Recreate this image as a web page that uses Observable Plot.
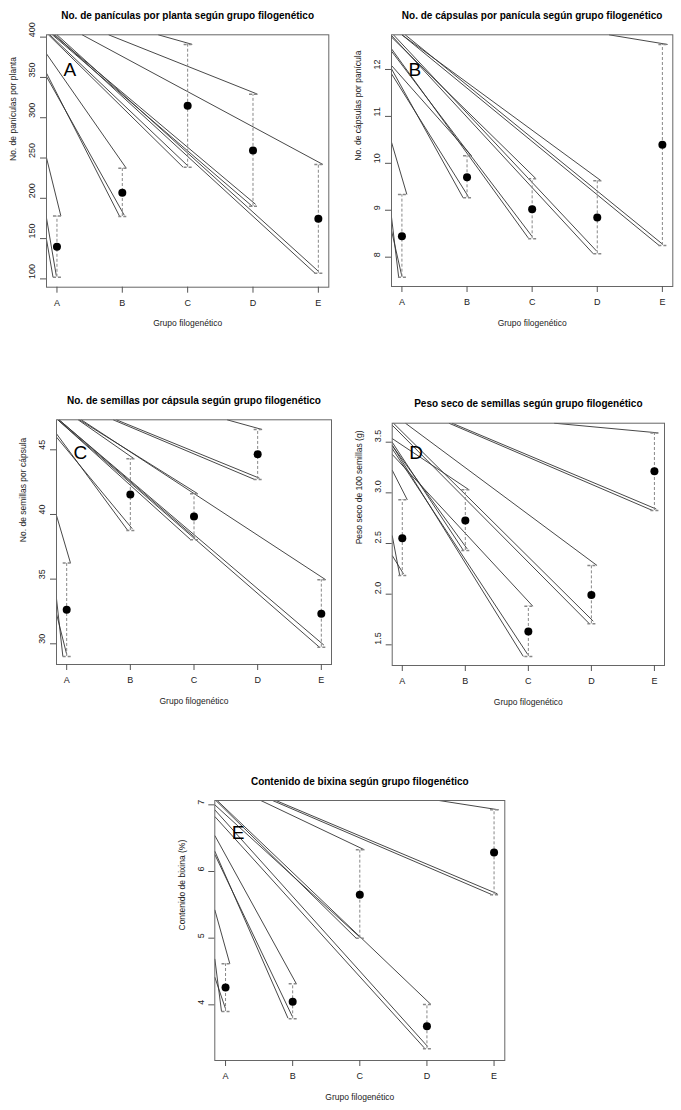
<!DOCTYPE html>
<html><head><meta charset="utf-8">
<script src="https://cdn.jsdelivr.net/npm/d3@7"></script>
<script src="https://cdn.jsdelivr.net/npm/@observablehq/plot@0.6"></script>
<style>
body{margin:0;background:#fff;}
#page{position:relative;width:681px;height:1110px;overflow:hidden;}
.panel{position:absolute;}
</style></head><body><div id="page"></div>
<script>
const groups = ["A","B","C","D","E"];
const xLabel = "Grupo filogenético";

// Panel A
const titleA = "No. de panículas por planta según grupo filogenético";
const yLabelA = "No. de panículas por planta";
const meanA  = [140, 207, 315, 259.3, 174.5];
const lowerA = [102, 177.4, 238.6, 190, 107];
const upperA = [178, 237.4, 391, 329.2, 242];
const yTicksA = [100,150,200,250,300,350,400];
const yDomA = [89.7, 402.9];
const linesA = [
 [0.84,250.2,1.06,178],[0.84,175.5,0.99,104],[0.84,149,0.94,102],
 [0.84,379.3,2.06,237.4],[0.84,355.3,1.96,177.4],[0.84,351,2.03,179],
 [2.55,402.9,3.07,391],[0.87,402.9,2.93,238.6],[0.89,402.9,3.0,240.5],
 [1.79,402.9,4.07,329.2],[0.93,402.9,3.99,190],[0.95,402.9,4.04,192.5],
 [1.385,402.9,5.07,242],[0.97,402.9,4.95,107],[1.0,402.9,5.0,109.5]
];

// Panel B
const titleB = "No. de cápsulas por panícula según grupo filogenético";
const yLabelB = "No. de cápsulas por panícula";
const meanB  = [8.448, 9.705, 9.023, 8.846, 10.394];
const lowerB = [7.574, 9.265, 8.391, 8.071, 8.249];
const upperB = [9.336, 10.16, 9.67, 9.627, 12.533];
const yTicksB = [8,9,10,11,12];
const yDomB = [7.375, 12.739];
const linesB = [
 [0.84,10.45,1.076,9.336],[0.84,8.853,0.95,7.574],[0.84,8.568,1.0,7.588],
 [0.84,12.085,2.07,10.16],[0.84,12.014,1.94,9.265],[0.84,11.908,2.02,9.29],
 [0.84,12.69,3.06,9.67],[0.84,12.44,2.94,8.41],[0.84,12.39,3.0,8.44],
 [1.0,12.739,4.06,9.627],[0.84,12.725,3.94,8.071],[0.87,12.739,3.99,8.13],
 [4.18,12.739,5.08,12.533],[1.0,12.739,4.95,8.249],[1.05,12.739,5.0,8.28]
];

// Panel C
const titleC = "No. de semillas por cápsula según grupo filogenético";
const yLabelC = "No. de semillas por cápsula";
const meanC  = [32.63, 41.55, 39.85, 44.66, 32.32];
const lowerC = [29.02, 38.76, 38.04, 42.71, 29.74];
const upperC = [36.24, 44.3, 41.6, 46.57, 34.95];
const yTicksC = [30,35,40,45];
const yDomC = [28.4, 47.32];
const linesC = [
 [0.84,39.92,1.06,36.24],[0.84,33.48,0.94,29.02],[0.84,32.32,1.0,29.18],
 [1.18,47.32,2.06,44.3],[0.84,46.24,1.96,38.76],[0.84,45.98,2.03,38.9],
 [1.2,47.32,3.06,41.6],[0.86,47.32,2.95,38.04],[0.88,47.32,3.02,38.2],
 [3.52,47.32,4.07,46.57],[1.73,47.32,3.95,42.71],[1.78,47.32,4.03,42.8],
 [1.23,47.32,5.07,34.95],[0.86,47.32,4.97,29.74],[0.88,47.32,5.04,29.9]
];

// Panel D
const titleD = "Peso seco de semillas según grupo filogenético";
const yLabelD = "Peso seco de 100 semillas (g)";
const meanD  = [2.553, 2.727, 1.632, 1.993, 3.214];
const lowerD = [2.184, 2.431, 1.385, 1.707, 2.826];
const upperD = [2.931, 3.03, 1.882, 2.283, 3.592];
const yTicksD = [1.5,2,2.5,3,3.5];
const yDomD = [1.296, 3.6875];
const linesD = [
 [0.84,3.224,1.08,2.931],[0.84,2.579,0.96,2.184],[0.84,2.382,1.02,2.2],
 [0.84,3.536,2.06,3.03],[0.84,3.5,1.97,2.431],[0.84,3.467,2.03,2.447],
 [0.84,3.38,3.07,1.882],[0.84,3.47,2.92,1.385],[0.84,3.437,2.99,1.405],
 [1.05,3.6875,4.09,2.283],[0.84,3.668,3.97,1.707],[0.86,3.6875,4.03,1.733],
 [3.41,3.6875,5.06,3.592],[1.74,3.6875,4.97,2.826],[1.79,3.6875,5.03,2.84]
];

// Panel E
const titleE = "Contenido de bixina según grupo filogenético";
const yLabelE = "Contenido de bixina (%)";
const meanE  = [4.26, 4.045, 5.65, 3.68, 6.285];
const lowerE = [3.9, 3.79, 5.0, 3.34, 5.65];
const upperE = [4.615, 4.315, 6.325, 4.005, 6.925];
const yTicksE = [4,5,6,7];
const yDomE = [3.165, 7.065];
const linesE = [
 [0.84,5.425,1.064,4.615],[0.84,4.69,0.94,3.9],[0.84,4.415,1.0,3.94],
 [0.84,6.54,2.055,4.315],[0.84,6.305,1.93,3.8],[0.84,6.255,1.995,3.825],
 [1.525,7.065,3.07,6.325],[0.856,7.065,2.945,5.0],[0.84,7.0,3.0,5.015],
 [0.876,7.065,4.06,4.005],[0.84,6.825,3.96,3.355],[0.84,6.925,4.01,3.375],
 [4.18,7.065,5.07,6.925],[1.70,7.065,4.975,5.65],[1.75,7.065,5.05,5.665]
];

const FONT = "Liberation Sans, Arial, Helvetica, sans-serif";
const capSymbol = {draw(ctx, size){ const r = Math.sqrt(size/Math.PI); ctx.moveTo(-r,0); ctx.lineTo(r,0); }};

function panel(o){
  const rows = groups.map((g,i)=>({x:i+1, mean:o.mean[i], lower:o.lower[i], upper:o.upper[i]}));
  const chart = Plot.plot({
    width:o.width, height:o.height,
    marginLeft:o.m[0], marginRight:o.m[1], marginTop:o.m[2], marginBottom:o.m[3],
    style:{fontFamily:FONT, background:"white", color:"#111"},
    x:{domain:[0.84,5.16]},
    y:{domain:o.yDom},
    marks:[
      Plot.link(o.lines,{x1:d=>d[0],y1:d=>d[1],x2:d=>d[2],y2:d=>d[3],stroke:"#333",strokeWidth:0.9,clip:true}),
      Plot.ruleX(rows,{x:"x",y1:"lower",y2:"upper",stroke:"#888",strokeDasharray:"3,2"}),
      Plot.dot(rows,{x:"x",y:"lower",symbol:capSymbol,r:4,fill:"none",stroke:"#888",strokeDasharray:"3,2"}),
      Plot.dot(rows,{x:"x",y:"upper",symbol:capSymbol,r:4,fill:"none",stroke:"#888",strokeDasharray:"3,2"}),
      Plot.dot(rows,{x:"x",y:"mean",r:4,fill:"black",stroke:"none"}),
      Plot.frame({stroke:"#666"}),
      Plot.axisX({ticks:[1,2,3,4,5],tickSize:6,tickFormat:()=>"",label:null,stroke:"#555"}),
      Plot.axisY({ticks:o.yTicks,tickSize:6,tickFormat:()=>"",label:null,stroke:"#555"}),
      Plot.text([1,2,3,4,5],{x:d=>d,text:d=>groups[d-1],frameAnchor:"bottom",dy:16,lineAnchor:"middle",fontSize:9,fill:"#222"}),
      Plot.text(o.yTicks,{y:d=>d,text:o.fmt,frameAnchor:"left",dx:-14,rotate:-90,lineAnchor:"middle",fontSize:9,fill:"#222"}),
      Plot.text([xLabel],{text:d=>d,frameAnchor:"bottom",dy:36.5,lineAnchor:"middle",fontSize:8.5,fill:"#222"}),
      Plot.text([o.yLabel],{text:d=>d,frameAnchor:"left",dx:-33,rotate:-90,lineAnchor:"middle",fontSize:8.5,fill:"#222"}),
      Plot.text([o.title],{text:d=>d,frameAnchor:"top",dy:-19,lineAnchor:"middle",fontSize:10,fontWeight:"bold",fill:"#000"}),
      Plot.text([o.letter],{text:d=>d,frameAnchor:"top-left",dx:17,dy:o.letterDy,textAnchor:"start",lineAnchor:"middle",fontSize:19,fill:"#000"})
    ]
  });
  const div = document.createElement("div");
  div.className = "panel";
  div.style.left = o.left+"px"; div.style.top = o.top+"px";
  div.appendChild(chart);
  document.getElementById("page").appendChild(div);
}

const fmtInt = d => String(d);
const fmt1 = d => d.toFixed(1);

panel({left:0,top:0,width:340,height:340,m:[46,11.7,34.3,53.3],yDom:yDomA,yTicks:yTicksA,fmt:fmtInt,
  title:titleA,yLabel:yLabelA,letter:"A",letterDy:35,mean:meanA,lower:lowerA,upper:upperA,lines:linesA});
panel({left:340,top:0,width:341,height:340,m:[51,8.7,34.3,54],yDom:yDomB,yTicks:yTicksB,fmt:fmtInt,
  title:titleB,yLabel:yLabelB,letter:"B",letterDy:35,mean:meanB,lower:lowerB,upper:upperB,lines:linesB});
panel({left:0,top:380,width:340,height:340,m:[56,9,39.3,56],yDom:yDomC,yTicks:yTicksC,fmt:fmtInt,
  title:titleC,yLabel:yLabelC,letter:"C",letterDy:33,mean:meanC,lower:lowerC,upper:upperC,lines:linesC});
panel({left:340,top:380,width:341,height:340,m:[51.7,17,42.7,55],yDom:yDomD,yTicks:yTicksD,fmt:fmt1,
  title:titleD,yLabel:yLabelD,letter:"D",letterDy:30,mean:meanD,lower:lowerD,upper:upperD,lines:linesD});
panel({left:160,top:760,width:380,height:350,m:[54.3,35.7,40,50],yDom:yDomE,yTicks:yTicksE,fmt:fmtInt,
  title:titleE,yLabel:yLabelE,letter:"E",letterDy:32,mean:meanE,lower:lowerE,upper:upperE,lines:linesE});
</script></body></html>
